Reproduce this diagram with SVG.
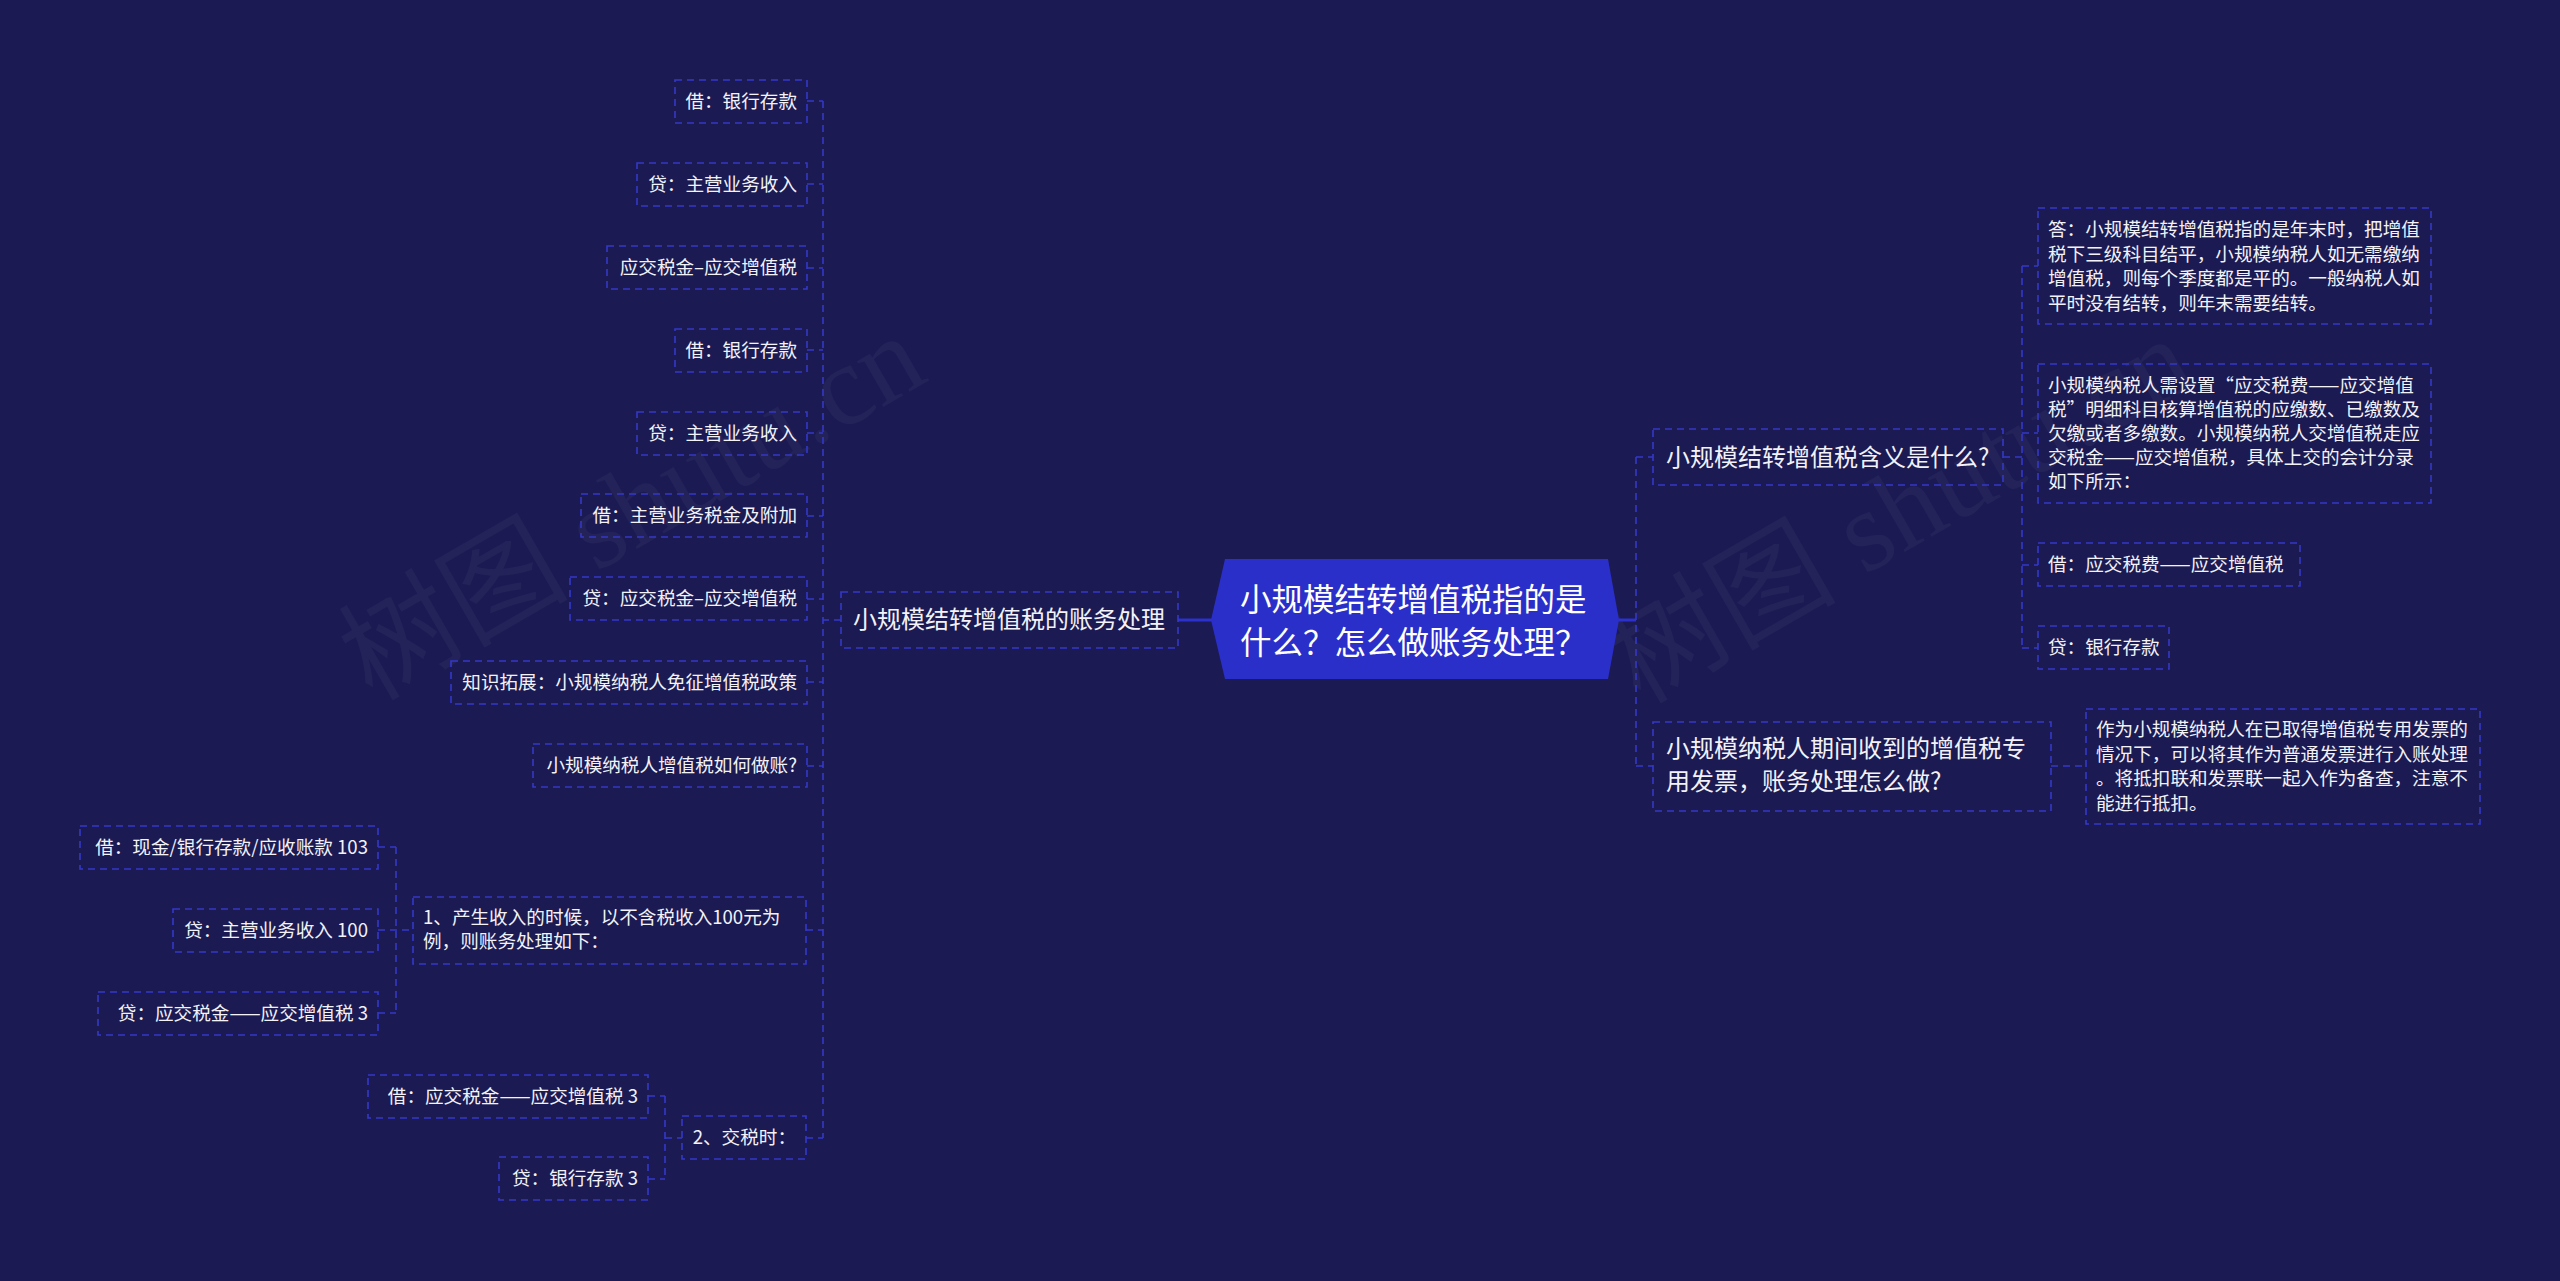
<svg xmlns="http://www.w3.org/2000/svg" width="2560" height="1281" viewBox="0 0 2560 1281">
<style>
.bg{fill:#1b1a53}
.box{fill:none;stroke:#3438c8;stroke-width:1.6;stroke-dasharray:7 5}
.ln{fill:none;stroke:#3438c8;stroke-width:1.6;stroke-dasharray:7 5}
.solid{fill:none;stroke:#2c30cc;stroke-width:3}
.t{font-family:"Noto Sans CJK SC","Noto Sans",sans-serif;fill:#f2f2f7}
.s{font-size:18.6px}
.m{font-size:24px}
.c{font-size:31.5px;fill:#ffffff}
.r{text-anchor:end}
.wm{font-family:"Liberation Serif","Noto Sans CJK SC",serif;font-size:115px;fill:#ffffff;fill-opacity:0.035}
</style>
<rect class="bg" x="0" y="0" width="2560" height="1281"/>
<g id="watermarks">
<text class="wm" x="372" y="702" transform="rotate(-30 372 702)">树图 shutu.cn</text>
<text class="wm" x="1640" y="705" transform="rotate(-30 1640 705)">树图 shutu.cn</text>
</g>
<g id="connectors">
<path class="solid" d="M1178 620H1212"/>
<path class="solid" d="M1618 620H1636"/>
<path class="ln" d="M841 620H823M823 101V1138"/>
<path class="ln" d="M807 101H823M807 184H823M807 268H823M807 350H823M807 433H823M807 516H823M807 599H823M807 682H823M807 766H823M806 930H823M806 1138H823"/>
<path class="ln" d="M378 847H396M378 930H413M378 1013H396M396 847V1013"/>
<path class="ln" d="M648 1096H665M648 1179H665M665 1138H682M665 1096V1179"/>
<path class="ln" d="M1636 457V766M1636 457H1653M1636 766H1653"/>
<path class="ln" d="M2003 457H2022M2022 266V648M2022 266H2038M2022 433H2038M2022 565H2038M2022 648H2038"/>
<path class="ln" d="M2051 766H2086"/>
</g>
<g id="center">
<polygon points="1211,620 1225,559 1608,559 1619,620 1608,679 1225,679" fill="#2b2fc9"/>
<text class="t c" x="1240" y="611">小规模结转增值税指的是</text>
<text class="t c" x="1240" y="654">什么？怎么做账务处理？</text>
</g>
<g id="n-left">
<rect class="box" x="841" y="592" width="337" height="56"/>
<text class="t m" x="853" y="628">小规模结转增值税的账务处理</text>
</g>
<g id="l1"><rect class="box" x="675" y="80" width="132" height="43"/><text class="t s r" x="797" y="108">借：银行存款</text></g>
<g id="l2"><rect class="box" x="637" y="163" width="170" height="43"/><text class="t s r" x="797" y="191">贷：主营业务收入</text></g>
<g id="l3"><rect class="box" x="607" y="246" width="200" height="43"/><text class="t s r" x="797" y="274">应交税金–应交增值税</text></g>
<g id="l4"><rect class="box" x="675" y="329" width="132" height="43"/><text class="t s r" x="797" y="357">借：银行存款</text></g>
<g id="l5"><rect class="box" x="637" y="412" width="170" height="43"/><text class="t s r" x="797" y="440">贷：主营业务收入</text></g>
<g id="l6"><rect class="box" x="581" y="494" width="226" height="43"/><text class="t s r" x="797" y="522">借：主营业务税金及附加</text></g>
<g id="l7"><rect class="box" x="570" y="577" width="237" height="43"/><text class="t s r" x="797" y="605">贷：应交税金–应交增值税</text></g>
<g id="l8"><rect class="box" x="451" y="661" width="356" height="43"/><text class="t s r" x="797" y="689">知识拓展：小规模纳税人免征增值税政策</text></g>
<g id="l9"><rect class="box" x="533" y="744" width="274" height="43"/><text class="t s r" x="797" y="772">小规模纳税人增值税如何做账?</text></g>
<g id="l10">
<rect class="box" x="413" y="897" width="393" height="67"/>
<text class="t s"><tspan x="423" y="924">1、产生收入的时候，以不含税收入100元为</tspan><tspan x="423" y="948">例，则账务处理如下：</tspan></text>
</g>
<g id="l10a"><rect class="box" x="80" y="826" width="298" height="43"/><text class="t s r" x="368" y="854">借：现金/银行存款/应收账款 103</text></g>
<g id="l10b"><rect class="box" x="173" y="909" width="205" height="43"/><text class="t s r" x="368" y="937">贷：主营业务收入 100</text></g>
<g id="l10c"><rect class="box" x="98" y="992" width="280" height="43"/><text class="t s r" x="368" y="1020">贷：应交税金——应交增值税 3</text></g>
<g id="l11"><rect class="box" x="682" y="1116" width="124" height="43"/><text class="t s r" x="796" y="1144">2、交税时：</text></g>
<g id="l11a"><rect class="box" x="368" y="1075" width="280" height="43"/><text class="t s r" x="638" y="1103">借：应交税金——应交增值税 3</text></g>
<g id="l11b"><rect class="box" x="499" y="1157" width="149" height="43"/><text class="t s r" x="638" y="1185">贷：银行存款 3</text></g>
<g id="n-r1">
<rect class="box" x="1653" y="429" width="350" height="56"/>
<text class="t m" x="1666" y="466" font-size="23">小规模结转增值税含义是什么?</text>
</g>
<g id="r1a">
<rect class="box" x="2038" y="208" width="393" height="116"/>
<text class="t s"><tspan x="2048" y="236">答：小规模结转增值税指的是年末时，把增值</tspan><tspan x="2048" y="260.5">税下三级科目结平，小规模纳税人如无需缴纳</tspan><tspan x="2048" y="285">增值税，则每个季度都是平的。一般纳税人如</tspan><tspan x="2048" y="309.5">平时没有结转，则年末需要结转。</tspan></text>
</g>
<g id="r1b">
<rect class="box" x="2038" y="364" width="393" height="139"/>
<text class="t s"><tspan x="2048" y="392">小规模纳税人需设置“应交税费——应交增值</tspan><tspan x="2048" y="416">税”明细科目核算增值税的应缴数、已缴数及</tspan><tspan x="2048" y="440">欠缴或者多缴数。小规模纳税人交增值税走应</tspan><tspan x="2048" y="464">交税金——应交增值税，具体上交的会计分录</tspan><tspan x="2048" y="488">如下所示：</tspan></text>
</g>
<g id="r1c"><rect class="box" x="2038" y="543" width="262" height="43"/><text class="t s" x="2048" y="571">借：应交税费——应交增值税</text></g>
<g id="r1d"><rect class="box" x="2038" y="626" width="131" height="43"/><text class="t s" x="2048" y="654">贷：银行存款</text></g>
<g id="n-r2">
<rect class="box" x="1653" y="722" width="398" height="89"/>
<text class="t m"><tspan x="1666" y="757">小规模纳税人期间收到的增值税专</tspan><tspan x="1666" y="790">用发票，账务处理怎么做?</tspan></text>
</g>
<g id="r2a">
<rect class="box" x="2086" y="709" width="394" height="115"/>
<text class="t s"><tspan x="2096" y="736">作为小规模纳税人在已取得增值税专用发票的</tspan><tspan x="2096" y="760.5">情况下，可以将其作为普通发票进行入账处理</tspan><tspan x="2096" y="785">。将抵扣联和发票联一起入作为备查，注意不</tspan><tspan x="2096" y="809.5">能进行抵扣。</tspan></text>
</g>
</svg>
